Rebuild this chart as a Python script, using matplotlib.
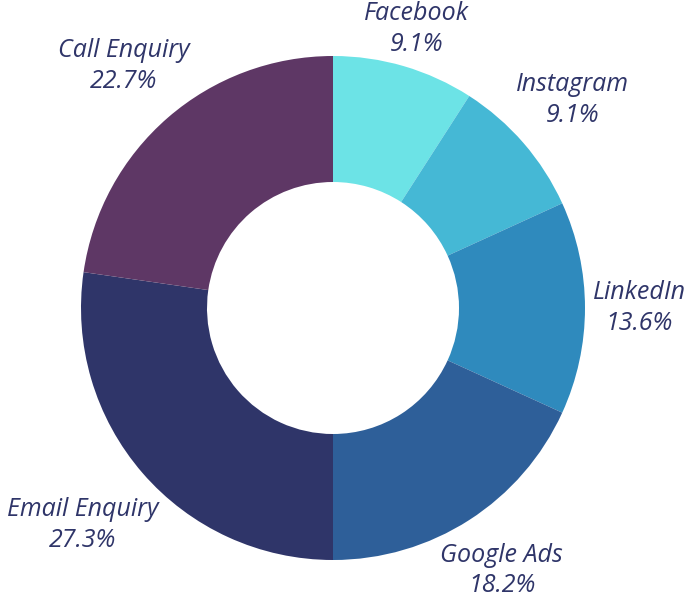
import numpy as np
import matplotlib
matplotlib.use("Agg")
import matplotlib.pyplot as plt

categories = ["Facebook", "Instagram", "LinkedIn", "Google Ads", "Email Enquiry", "Call Enquiry"]
values = [2, 2, 3, 4, 6, 5]
colors = ["#6CE3E6", "#45B8D5", "#2F8ABD", "#2E5F99", "#2F3569", "#5E3765"]
text_color = "#2F3569"

W, H = 693, 603
cx, cy = 333, 308
R = 252
fig = plt.figure(figsize=(W / 100, H / 100), dpi=100)
ax = fig.add_axes([0, 0, 1, 1])

wedges, _ = ax.pie(values, colors=colors, startangle=90, counterclock=False,
                   radius=R, wedgeprops=dict(width=R * 0.5, linewidth=0),
                   center=(0, 0), frame=True)
ax.set_xlim(-cx, W - cx)
ax.set_ylim(-(H - cy), cy)
ax.set_aspect("equal")
ax.axis("off")

total = sum(values)
fig.canvas.draw()
renderer = fig.canvas.get_renderer()
R0 = R * 1.03
for w, name, v in zip(wedges, categories, values):
    ang = np.deg2rad((w.theta1 + w.theta2) / 2)
    u = np.array([np.cos(ang), np.sin(ang)])
    pct = 100 * v / total
    t = ax.text(0, 0, f"{name}\n{pct:.1f}%", ha="center", va="center",
                fontsize=18, style="italic", family="Open Sans", color=text_color,
                linespacing=1.3, multialignment="center")
    bb = t.get_window_extent(renderer)
    a, b = bb.width / 2, bb.height / 2 - 5
    d = R0 + a * abs(u[0]) + b * abs(u[1])
    x, y = d * u[0], d * u[1]
    # keep the label inside the figure
    top_limit = cy - 1
    if y + bb.height / 2 > top_limit:
        y = top_limit - bb.height / 2
    t.set_position((x, y))

fig.savefig("out.png", dpi=100)
